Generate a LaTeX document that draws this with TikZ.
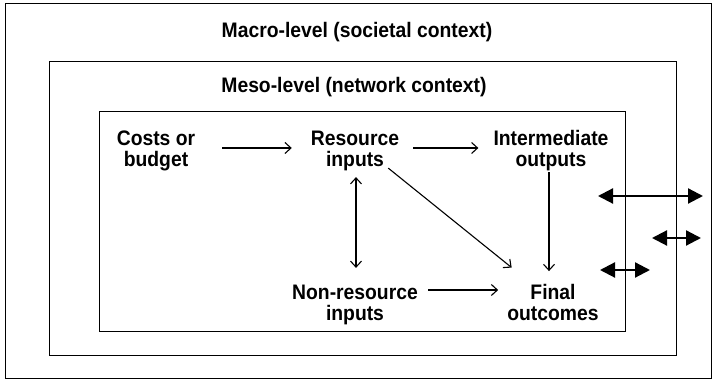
\documentclass[tikz,border=0pt]{standalone}
\usepackage{fontspec}
\setmainfont{Liberation Sans}[FakeStretch=0.92]
\usetikzlibrary{arrows.meta}
\begin{document}
\begin{tikzpicture}[x=1pt,y=1pt,
  lbl/.style={font=\fontsize{21}{21}\selectfont\bfseries, align=center, inner sep=0pt},
  frame/.style={draw=black, line width=1pt},
  arr/.style={draw=black, line width=1.1pt, -{Straight Barb[length=6pt,width=11pt]}},
  darr/.style={draw=black, line width=1.1pt, {Straight Barb[length=6pt,width=11pt]}-{Straight Barb[length=6pt,width=11pt]}},
  bigarr/.style={draw=black, line width=2.2pt, {Triangle[length=15pt,width=15pt]}-{Triangle[length=15pt,width=15pt]}}]
  \useasboundingbox (0,0) rectangle (713,382);

  % nested context frames
  \draw[frame] (5,3) rectangle (711,378.5);
  \draw[frame] (49,26) rectangle (676,320);
  \draw[frame] (99,50) rectangle (625,270);

  % level titles
  \node[lbl, anchor=base] (macro) at (357,344) {Macro-level (societal context)};
  \node[lbl, anchor=base] (meso) at (354,289) {Meso-level (network context)};

  % logic model elements
  \node[lbl] (costs) at (156,231) {Costs or\\budget};
  \node[lbl] (res) at (355,231) {Resource\\inputs};
  \node[lbl] (inter) at (551,231) {Intermediate\\outputs};
  \node[lbl] (nonres) at (355,77) {Non-resource\\inputs};
  \node[lbl] (final) at (553,79.5) {Final\\outcomes};

  % relations between elements
  \draw[arr, shorten <=27pt, shorten >=19pt] ([yshift=3pt]costs.east) -- ([yshift=3pt]res.west);
  \draw[arr, shorten <=14pt, shorten >=15pt] ([yshift=3pt]res.east) -- ([yshift=3pt]inter.west);
  \draw[arr, shorten <=1pt, shorten >=13pt] ([xshift=-2pt]inter.south) -- ([xshift=-2pt]inter.south |- final.north);
  \draw[darr, shorten <=6pt, shorten >=17pt] ([xshift=1pt]res.south) -- ([xshift=1pt]res.south |- nonres.north);
  \draw[arr] ([shift={(-11pt,3pt)}]res.south east) -- ([shift={(4.5pt,16.5pt)}]final.north west);
  \draw[arr, shorten <=10pt, shorten >=9pt] ([yshift=15pt]nonres.east) -- ([yshift=15pt]nonres.east -| final.west);

  % exchanges across the context boundaries
  \coordinate (t1a) at (598,186); \coordinate (t1b) at (703,186);
  \coordinate (t2a) at (652,144); \coordinate (t2b) at (701,144);
  \coordinate (t3a) at (600,112); \coordinate (t3b) at (650,112);
  \draw[bigarr] (t1a) -- (t1b);
  \draw[bigarr] (t2a) -- (t2b);
  \draw[bigarr] (t3a) -- (t3b);
\end{tikzpicture}
\end{document}
